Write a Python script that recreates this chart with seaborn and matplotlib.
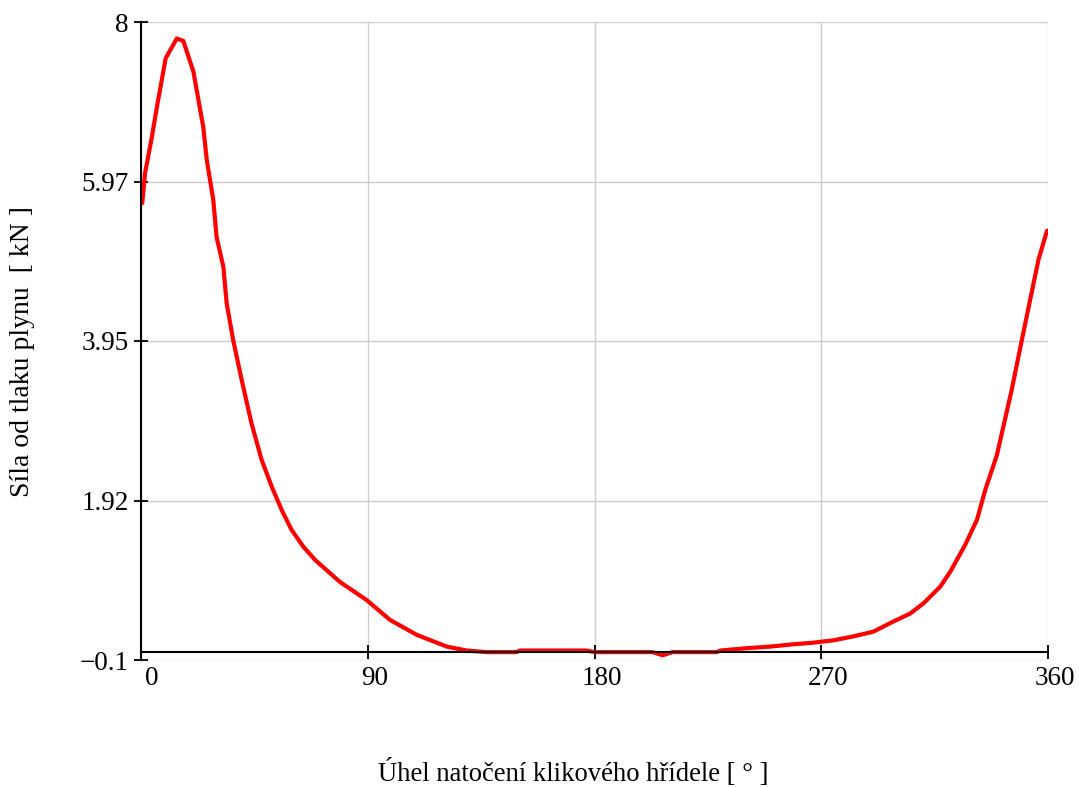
import numpy as np
import pandas as pd
import matplotlib
matplotlib.use("Agg")
import matplotlib.pyplot as plt
import matplotlib.transforms as mtransforms
import seaborn as sns

# ---- data ----
angle = [0.5, 1.6, 4.2, 6.2, 9.8, 14.2, 16.8, 20.8, 24.7, 26.1, 28.7, 30.0, 32.7, 34.0,
         36.6, 40.0, 43.9, 47.9, 51.9, 55.9, 59.8, 64.4, 69.1, 79.0, 89.6, 98.8,
         109.4, 121.4, 129.3, 137.2, 149.0, 150.5, 177.0, 180.0, 203.0, 207.0, 211.0,
         228.5, 229.9, 240.4, 249.7, 259.0, 266.9, 274.8, 282.8, 290.7, 298.7, 305.3,
         310.6, 317.2, 321.2, 327.1, 331.8, 335.1, 339.7, 345.6, 349.6, 352.9, 356.2, 359.6]
force = [5.70, 6.08, 6.52, 6.90, 7.54, 7.79, 7.76, 7.37, 6.67, 6.25, 5.74, 5.27, 4.89, 4.43,
         3.96, 3.45, 2.90, 2.44, 2.10, 1.80, 1.55, 1.34, 1.17, 0.89, 0.66, 0.41,
         0.22, 0.07, 0.02, 0.00, 0.00, 0.02, 0.02, 0.00, 0.00, -0.04, 0.00,
         0.00, 0.02, 0.05, 0.07, 0.10, 0.12, 0.15, 0.20, 0.26, 0.39, 0.49,
         0.62, 0.83, 1.02, 1.36, 1.68, 2.06, 2.50, 3.33, 3.96, 4.47, 4.98, 5.35]
x_ticks = [0, 90, 180, 270, 360]
y_ticks = [-0.1, 1.92, 3.95, 5.97, 8]
y_tick_labels = ["\u22120.1", "1.92", "3.95", "5.97", "8"]
x_label = "Úhel natočení klikového hřídele [ ° ]"
y_label = "Síla od tlaku plynu  [ kN ]"

df = pd.DataFrame({"angle": angle, "force": force})

sns.set_style("white")
plt.rcParams["font.family"] = ["Liberation Serif", "DejaVu Serif"]
plt.rcParams["text.color"] = "black"

fig = plt.figure(figsize=(10.79, 7.87), dpi=100)
ax = fig.add_axes([141 / 1079, 1 - 660 / 787, (1048 - 141) / 1079, (660 - 22) / 787])

sns.lineplot(data=df, x="angle", y="force", color="#ff0000", linewidth=3.0, ax=ax,
             estimator=None, sort=False)

ax.set_xlim(0, 360)
ax.set_ylim(-0.1, 8)
ax.set_xticks(x_ticks)
ax.set_xticklabels([str(v) for v in x_ticks])
ax.set_yticks(y_ticks)
ax.set_yticklabels(y_tick_labels)

ax.grid(True, color="#cccccc", linewidth=1.0)
ax.set_axisbelow(True)

for s in ["top", "right"]:
    ax.spines[s].set_visible(False)
ax.spines["bottom"].set_position(("data", 0))
ax.spines["left"].set_position(("data", 0))
for s in ["bottom", "left"]:
    ax.spines[s].set_color("black")
    ax.spines[s].set_linewidth(1.5)

ax.tick_params(axis="x", bottom=True, top=False)
ax.tick_params(axis="y", left=True, right=False)
ax.tick_params(axis="both", which="major", direction="inout", length=10, width=1.3,
               colors="black", labelcolor="black", labelsize=19.5)
ax.tick_params(axis="x", pad=0)
ax.tick_params(axis="y", pad=4)

for i, lab in enumerate(ax.get_xticklabels()):
    dx = 11 / 100 if i == 0 else 7 / 100
    lab.set_transform(lab.get_transform() + mtransforms.ScaledTranslation(dx, -0.07, fig.dpi_scale_trans))

ax.set_xlabel("")
ax.set_ylabel("")
fig.text(573 / 1079, 1 - 773 / 787, x_label, ha="center", va="center", fontsize=19.2, color="black")
fig.text(23 / 1079, 1 - 352 / 787, y_label, ha="center", va="center", fontsize=20, rotation=90,
         color="black")

fig.savefig("out.png", dpi=100)
